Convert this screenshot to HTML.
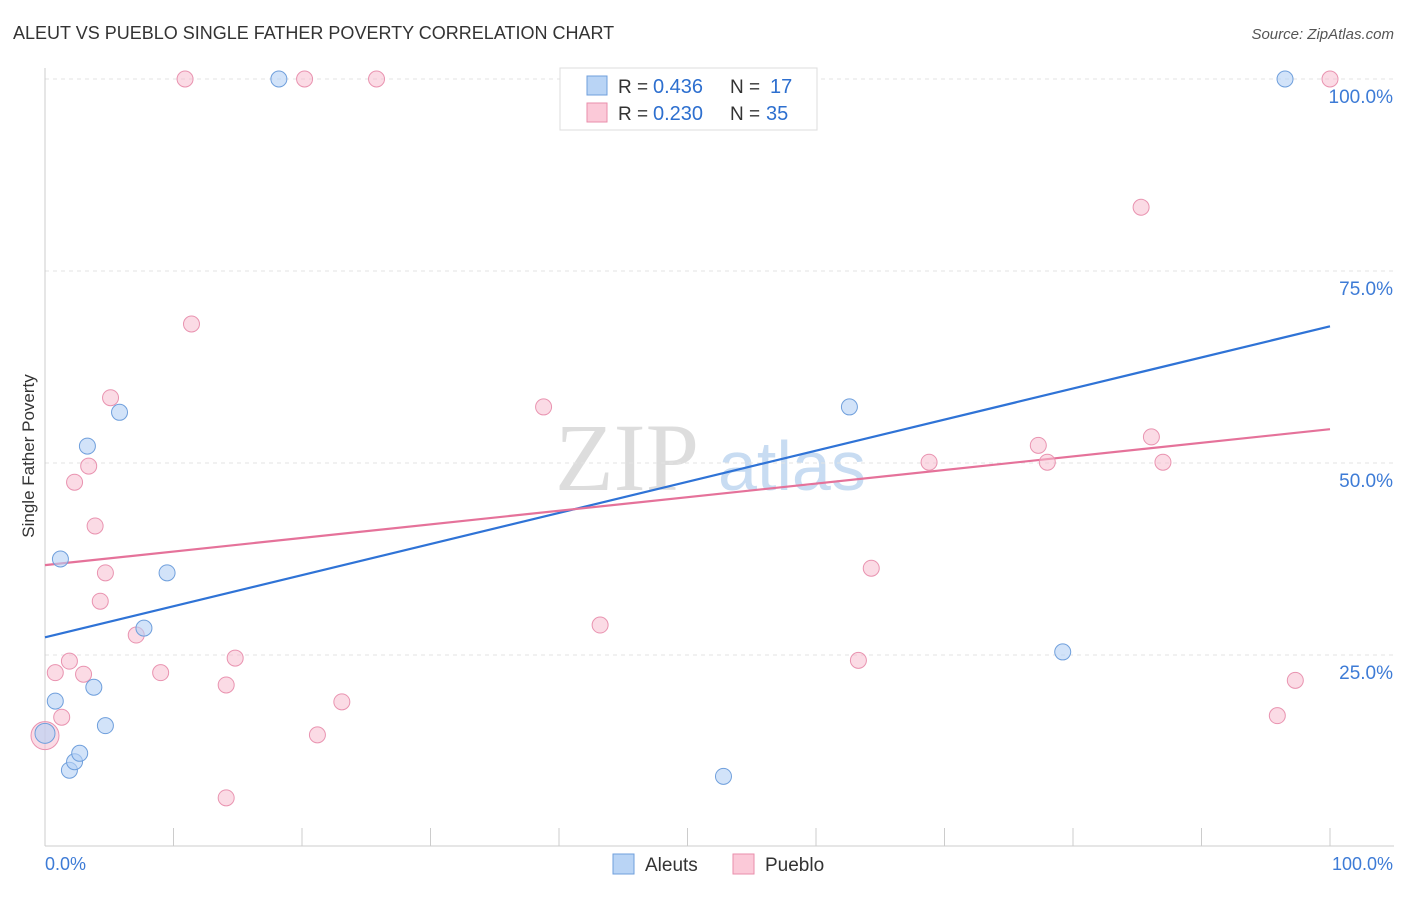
<!DOCTYPE html>
<html><head><meta charset="utf-8"><style>
body{margin:0;background:#fff;font-family:"Liberation Sans",sans-serif;}
</style></head><body>
<svg id="chart" width="1406" height="892" xmlns="http://www.w3.org/2000/svg">
<text x="13" y="39" font-size="18" fill="#333">ALEUT VS PUEBLO SINGLE FATHER POVERTY CORRELATION CHART</text>
<text x="1394" y="39" font-size="15" fill="#555" font-style="italic" text-anchor="end">Source: ZipAtlas.com</text>
<text x="34" y="456" font-size="17" fill="#333" text-anchor="middle" transform="rotate(-90 34 456)">Single Father Poverty</text>
<text x="555" y="490" font-size="96" fill="#ddd" font-family="Liberation Serif,serif">ZIP</text>
<text x="718" y="490" font-size="70" fill="#c8dcf2">atlas</text>
<g id="grid"></g><g id="trend"></g><g id="pts"></g>
<g>
<rect x="560" y="68" width="257" height="62" fill="#fff" stroke="#ddd"/>
<rect x="587" y="76" width="20" height="19" fill="#b9d4f5" stroke="#6f9fdc"/>
<rect x="587" y="103" width="20" height="19" fill="#fbc9d8" stroke="#e98eab"/>
<text x="618" y="93" font-size="19" fill="#333">R =</text>
<text x="653" y="93" font-size="20" fill="#2d6fcf">0.436</text>
<text x="730" y="93" font-size="19" fill="#333">N =</text>
<text x="770" y="93" font-size="20" fill="#2d6fcf">17</text>
<text x="618" y="120" font-size="19" fill="#333">R =</text>
<text x="653" y="120" font-size="20" fill="#2d6fcf">0.230</text>
<text x="730" y="120" font-size="19" fill="#333">N =</text>
<text x="766" y="120" font-size="20" fill="#2d6fcf">35</text>
</g>
<g>
<rect x="613" y="854" width="21" height="20" fill="#b9d4f5" stroke="#6f9fdc"/>
<text x="645" y="871" font-size="19" fill="#333">Aleuts</text>
<rect x="733" y="854" width="21" height="20" fill="#fbc9d8" stroke="#e98eab"/>
<text x="765" y="871" font-size="19" fill="#333">Pueblo</text>
</g>
<text x="45" y="870" font-size="18" fill="#3d7bd6">0.0%</text>
<text x="1393" y="870" font-size="18" fill="#3d7bd6" text-anchor="end">100.0%</text>
</svg>
<script>
const yTicks=[25,50,75,100];
const xTickVals=[0,10,20,30,40,50,60,70,80,90,100];
const aleutX=[0,0.8,1.2,1.9,2.3,2.7,3.3,3.8,4.7,5.8,7.7,9.5,18.2,52.8,62.6,79.2,96.5];
const aleutY=[14.8,19.0,37.5,10.0,11.1,12.2,52.2,20.8,15.8,56.6,28.5,35.7,100,9.2,57.3,25.4,100];
const puebloX=[0,0.8,1.3,1.9,2.3,3.0,3.4,3.9,4.3,4.7,5.1,7.1,9.0,10.9,11.4,14.1,14.1,14.8,20.2,21.2,23.1,25.8,38.8,43.2,63.3,64.3,68.8,77.3,78.0,85.3,86.1,87.0,95.9,97.3,100];
const puebloY=[14.5,22.7,16.9,24.2,47.5,22.5,49.6,41.8,32.0,35.7,58.5,27.6,22.7,100,68.1,21.1,6.4,24.6,100,14.6,18.9,100,57.3,28.9,24.3,36.3,50.1,52.3,50.1,83.3,53.4,50.1,17.1,21.7,100];
const aleutTrend=[27.3,67.8];
const puebloTrend=[36.7,54.4];
const NS='http://www.w3.org/2000/svg';
const X=v=>45+v*12.85, Y=v=>847-v*7.68;
function mk(t,a,p){const e=document.createElementNS(NS,t);for(const k in a)e.setAttribute(k,a[k]);p.appendChild(e);return e;}
const g=document.getElementById('grid');
yTicks.forEach(t=>{
 const l=mk('line',{x1:45,x2:1394,y1:Y(t),y2:Y(t),stroke:'#e3e3e3','stroke-dasharray':'4,4'},g);
 
 
 const tx=mk('text',{x:1393,y:Y(t)+24,'font-size':19,fill:'#3d7bd6','text-anchor':'end'},g);
 tx.textContent=t.toFixed(1)+'%';
 
 
});
mk('line',{x1:45,x2:45,y1:68,y2:846,stroke:'#ccc'},g);
mk('line',{x1:45,x2:1394,y1:846,y2:846,stroke:'#ccc'},g);
xTickVals.forEach(t=>{const l=mk('line',{x1:X(t),x2:X(t),y1:828,y2:846,stroke:'#ccc'},g);
 
 });
const tr=document.getElementById('trend');
const lb=mk('line',{x1:X(0),y1:Y(aleutTrend[0]),x2:X(100),y2:Y(aleutTrend[1]),stroke:'#2f73d6','stroke-width':2.2},tr);


const lp=mk('line',{x1:X(0),y1:Y(puebloTrend[0]),x2:X(100),y2:Y(puebloTrend[1]),stroke:'#e5729a','stroke-width':2.2},tr);


const pg=document.getElementById('pts');
puebloX.forEach((x,i)=>{const c=mk('circle',{cx:X(x),cy:Y(puebloY[i]),r:i==0?14:8,fill:'rgba(248,190,208,0.55)',stroke:'#e993b0','stroke-width':1},pg);
 
 });
aleutX.forEach((x,i)=>{const c=mk('circle',{cx:X(x),cy:Y(aleutY[i]),r:i==0?10:8,fill:'rgba(180,208,245,0.6)',stroke:'#6f9fdc','stroke-width':1},pg);
 
 });
</script>
</body></html>
